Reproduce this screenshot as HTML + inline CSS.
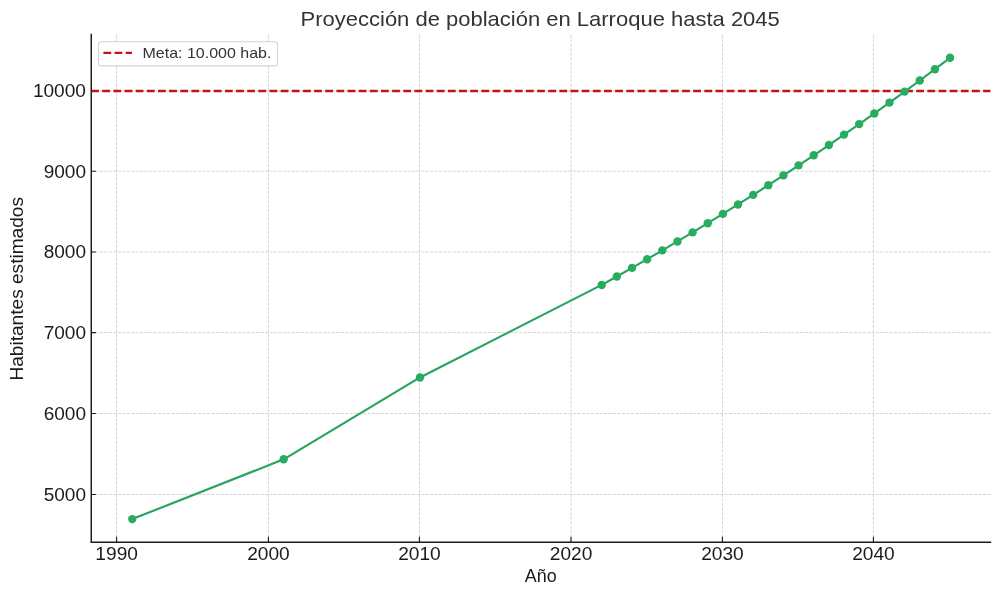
<!DOCTYPE html><html><head><meta charset="utf-8"><style>html,body{margin:0;padding:0;background:#fff;width:1000px;height:596px;overflow:hidden}svg{display:block;will-change:transform}</style></head><body><svg width="1000" height="596" viewBox="0 0 1000 596">
<rect width="1000" height="596" fill="#fff"/>
<path d="M116.59 542.00V34.50M268.43 542.00V34.50M419.43 542.00V34.50M571.00 542.00V34.50M722.43 542.00V34.50M873.43 542.00V34.50M91.10 494.45H990.40M91.10 413.54H990.40M91.10 332.62H990.40M91.10 251.95H990.40M91.10 171.29H990.40M91.10 91.00H990.40" fill="none" stroke="#b0b0b0" stroke-opacity="0.65" stroke-width="0.85" stroke-dasharray="3.11 1.35"/>
<path d="M116.59 542.00V536.70M268.43 542.00V536.70M419.43 542.00V536.70M571.00 542.00V536.70M722.43 542.00V536.70M873.43 542.00V536.70M91.10 494.45H95.90M91.10 413.54H95.90M91.10 332.62H95.90M91.10 251.95H95.90M91.10 171.29H95.90M91.10 91.00H95.90" fill="none" stroke="#1a1a1a" stroke-width="1.1"/>
<path d="M91.10 91.00H990.40" fill="none" stroke="#c41218" stroke-width="2.3" stroke-dasharray="7.8 3.35"/>
<polyline points="132.25,519.10 283.69,459.31 420.00,377.45 601.74,284.93 616.88,276.47 632.03,267.89 647.17,259.19 662.32,250.38 677.47,241.44 692.61,232.38 707.75,223.20 722.90,213.89 738.04,204.45 753.19,194.88 768.34,185.17 783.48,175.34 798.62,165.37 813.77,155.26 828.91,145.01 844.06,134.62 859.21,124.09 874.35,113.41 889.50,102.59 904.64,91.62 919.78,80.49 934.93,69.21 950.08,57.78" fill="none" stroke="#26a35c" stroke-width="2.12" stroke-linejoin="round" stroke-linecap="butt"/>
<circle cx="132.25" cy="519.10" r="4.2" fill="#28ad60"/>
<circle cx="283.69" cy="459.31" r="4.2" fill="#28ad60"/>
<circle cx="420.00" cy="377.45" r="4.2" fill="#28ad60"/>
<circle cx="601.74" cy="284.93" r="4.2" fill="#28ad60"/>
<circle cx="616.88" cy="276.47" r="4.2" fill="#28ad60"/>
<circle cx="632.03" cy="267.89" r="4.2" fill="#28ad60"/>
<circle cx="647.17" cy="259.19" r="4.2" fill="#28ad60"/>
<circle cx="662.32" cy="250.38" r="4.2" fill="#28ad60"/>
<circle cx="677.47" cy="241.44" r="4.2" fill="#28ad60"/>
<circle cx="692.61" cy="232.38" r="4.2" fill="#28ad60"/>
<circle cx="707.75" cy="223.20" r="4.2" fill="#28ad60"/>
<circle cx="722.90" cy="213.89" r="4.2" fill="#28ad60"/>
<circle cx="738.04" cy="204.45" r="4.2" fill="#28ad60"/>
<circle cx="753.19" cy="194.88" r="4.2" fill="#28ad60"/>
<circle cx="768.34" cy="185.17" r="4.2" fill="#28ad60"/>
<circle cx="783.48" cy="175.34" r="4.2" fill="#28ad60"/>
<circle cx="798.62" cy="165.37" r="4.2" fill="#28ad60"/>
<circle cx="813.77" cy="155.26" r="4.2" fill="#28ad60"/>
<circle cx="828.91" cy="145.01" r="4.2" fill="#28ad60"/>
<circle cx="844.06" cy="134.62" r="4.2" fill="#28ad60"/>
<circle cx="859.21" cy="124.09" r="4.2" fill="#28ad60"/>
<circle cx="874.35" cy="113.41" r="4.2" fill="#28ad60"/>
<circle cx="889.50" cy="102.59" r="4.2" fill="#28ad60"/>
<circle cx="904.64" cy="91.62" r="4.2" fill="#28ad60"/>
<circle cx="919.78" cy="80.49" r="4.2" fill="#28ad60"/>
<circle cx="934.93" cy="69.21" r="4.2" fill="#28ad60"/>
<circle cx="950.08" cy="57.78" r="4.2" fill="#28ad60"/>
<path d="M91.25 33.8V542.95M90.5 542.25H991.2" fill="none" stroke="#1a1a1a" stroke-width="1.45"/>
<text x="116.64" y="560" font-family="Liberation Sans, sans-serif" font-size="17.6" text-anchor="middle" fill="#1a1a1a" textLength="42.55" lengthAdjust="spacingAndGlyphs">1990</text>
<text x="268.48" y="560" font-family="Liberation Sans, sans-serif" font-size="17.6" text-anchor="middle" fill="#1a1a1a" textLength="42.55" lengthAdjust="spacingAndGlyphs">2000</text>
<text x="419.48" y="560" font-family="Liberation Sans, sans-serif" font-size="17.6" text-anchor="middle" fill="#1a1a1a" textLength="42.55" lengthAdjust="spacingAndGlyphs">2010</text>
<text x="571.05" y="560" font-family="Liberation Sans, sans-serif" font-size="17.6" text-anchor="middle" fill="#1a1a1a" textLength="42.55" lengthAdjust="spacingAndGlyphs">2020</text>
<text x="722.48" y="560" font-family="Liberation Sans, sans-serif" font-size="17.6" text-anchor="middle" fill="#1a1a1a" textLength="42.55" lengthAdjust="spacingAndGlyphs">2030</text>
<text x="873.48" y="560" font-family="Liberation Sans, sans-serif" font-size="17.6" text-anchor="middle" fill="#1a1a1a" textLength="42.55" lengthAdjust="spacingAndGlyphs">2040</text>
<text x="86.0" y="501" font-family="Liberation Sans, sans-serif" font-size="17.6" text-anchor="end" fill="#1a1a1a" textLength="42.35" lengthAdjust="spacingAndGlyphs">5000</text>
<text x="86.0" y="420" font-family="Liberation Sans, sans-serif" font-size="17.6" text-anchor="end" fill="#1a1a1a" textLength="42.35" lengthAdjust="spacingAndGlyphs">6000</text>
<text x="86.0" y="339" font-family="Liberation Sans, sans-serif" font-size="17.6" text-anchor="end" fill="#1a1a1a" textLength="42.35" lengthAdjust="spacingAndGlyphs">7000</text>
<text x="86.0" y="258" font-family="Liberation Sans, sans-serif" font-size="17.6" text-anchor="end" fill="#1a1a1a" textLength="42.35" lengthAdjust="spacingAndGlyphs">8000</text>
<text x="86.0" y="178" font-family="Liberation Sans, sans-serif" font-size="17.6" text-anchor="end" fill="#1a1a1a" textLength="42.35" lengthAdjust="spacingAndGlyphs">9000</text>
<text x="86.0" y="97" font-family="Liberation Sans, sans-serif" font-size="17.6" text-anchor="end" fill="#1a1a1a" textLength="53.1" lengthAdjust="spacingAndGlyphs">10000</text>
<text x="540.2" y="25.8" font-family="Liberation Sans, sans-serif" font-size="20.8" text-anchor="middle" fill="#333" textLength="479.25" lengthAdjust="spacingAndGlyphs">Proyección de población en Larroque hasta 2045</text>
<text x="540.8" y="581.9" font-family="Liberation Sans, sans-serif" font-size="17.6" text-anchor="middle" fill="#1a1a1a" textLength="31.9" lengthAdjust="spacingAndGlyphs">Año</text>
<text transform="translate(23 288.8) rotate(-90)" font-family="Liberation Sans, sans-serif" font-size="17.6" text-anchor="middle" fill="#1a1a1a" textLength="183.65" lengthAdjust="spacingAndGlyphs">Habitantes estimados</text>
<rect x="98.6" y="41.7" width="178.8" height="24.2" rx="2.5" fill="#fff" fill-opacity="0.9" stroke="#d4d4d4" stroke-width="1.1"/>
<path d="M103.4 52.9H131.9" fill="none" stroke="#c41218" stroke-width="2.3" stroke-dasharray="7.8 3.35"/>
<text x="142.55" y="57.8" font-family="Liberation Sans, sans-serif" font-size="14.8" fill="#333" textLength="128.9" lengthAdjust="spacingAndGlyphs">Meta: 10.000 hab.</text>
</svg></body></html>
